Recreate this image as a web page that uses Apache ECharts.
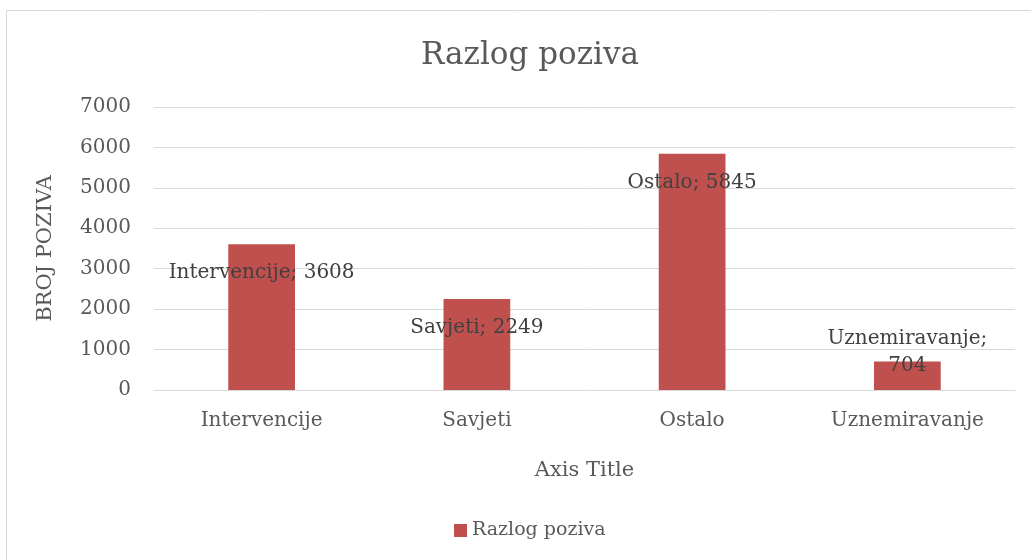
<!DOCTYPE html>
<html>
<head>
<meta charset="utf-8">
<script src="https://cdn.jsdelivr.net/npm/echarts@6/dist/echarts.min.js"></script>
<style>
  html, body { margin: 0; padding: 0; background: #fff; }
  #chart { width: 1031px; height: 560px; }
</style>
</head>
<body>
<div id="chart"></div>
<script>
// data
const categories = ['Intervencije', 'Savjeti', 'Ostalo', 'Uznemiravanje'];
const values = [3608, 2249, 5845, 704];
const yTicks = [0, 7000, 1000]; // min, max, interval

const font = 'DejaVu Serif';
const grey = '#595959';

const chart = echarts.init(document.getElementById('chart'));

const barData = values.map((v, i) => {
  // the last bar is too short for the label, Excel puts it above and wraps it
  if (i === values.length - 1) {
    return {
      value: v,
      label: { position: ['50%', -9], formatter: '{b};\n{c}' }
    };
  }
  return v;
});

chart.setOption({
  animation: false,
  textStyle: { fontFamily: font },
  graphic: [{
    type: 'rect',
    shape: { x: 6.5, y: 10.5, width: 1100, height: 600 },
    style: { fill: 'none', stroke: '#d9d9d9', lineWidth: 1 },
    silent: true
  }],
  title: {
    text: 'Razlog poziva',
    left: 525,
    top: 35,
    textAlign: 'center',
    textStyle: { fontFamily: font, fontSize: 31, fontWeight: 'normal', color: grey }
  },
  legend: {
    data: ['Razlog poziva'],
    left: 449,
    top: 516,
    icon: 'rect',
    itemWidth: 13,
    itemHeight: 13,
    itemGap: 6,
    textStyle: { fontFamily: font, fontSize: 19, color: grey }
  },
  grid: { left: 154, right: 16, top: 107, bottom: 170 },
  xAxis: {
    type: 'category',
    data: categories,
    name: 'Axis Title',
    nameLocation: 'middle',
    nameGap: 70,
    nameTextStyle: { fontFamily: font, fontSize: 21, color: grey },
    axisLine: { lineStyle: { color: '#d9d9d9', width: 1 } },
    axisTick: { show: false },
    axisLabel: { fontFamily: font, fontSize: 20, color: grey, margin: 21 }
  },
  yAxis: {
    type: 'value',
    min: yTicks[0],
    max: yTicks[1],
    interval: yTicks[2],
    name: 'BROJ POZIVA',
    nameLocation: 'middle',
    nameGap: 98,
    nameTextStyle: { fontFamily: font, fontSize: 21, color: grey },
    axisLine: { show: false },
    axisTick: { show: false },
    axisLabel: { fontFamily: font, fontSize: 20, color: grey, margin: 23, formatter: v => String(v) },
    splitLine: { lineStyle: { color: '#d9d9d9', width: 1 } }
  },
  series: [{
    name: 'Razlog poziva',
    type: 'bar',
    data: barData,
    barWidth: '31%',
    itemStyle: { color: '#C0504D' },
    label: {
      show: true,
      position: ['50%', 29],
      align: 'center',
      verticalAlign: 'middle',
      formatter: '{b}; {c}',
      fontFamily: font,
      fontSize: 20,
      lineHeight: 27,
      color: '#404040'
    }
  }]
});
</script>
</body>
</html>
